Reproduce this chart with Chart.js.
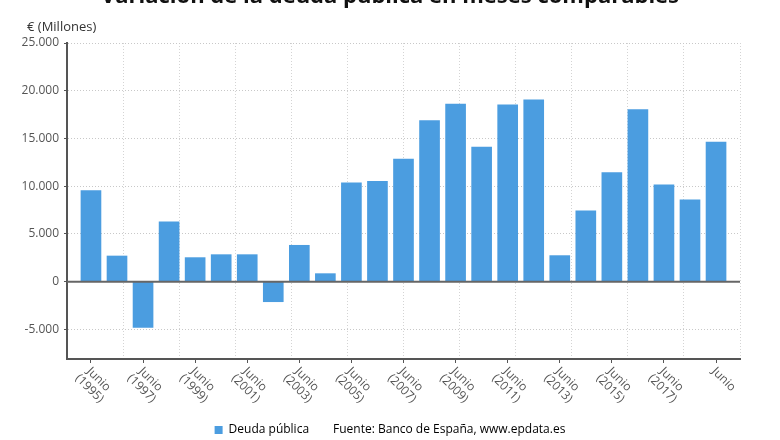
<!DOCTYPE html>
<html>
<head>
<meta charset="utf-8">
<script src="https://cdn.jsdelivr.net/npm/chart.js@4.4.0/dist/chart.umd.min.js"></script>
<style>
body{margin:0;background:#fff;}
</style>
</head>
<body>
<canvas id="mychart" width="780" height="440"></canvas>
<script>
// datos
const years = [1995,1996,1997,1998,1999,2000,2001,2002,2003,2004,2005,2006,2007,
               2008,2009,2010,2011,2012,2013,2014,2015,2016,2017,2018,2019];
const deuda = [9540,2690,-4780,6260,2520,2830,2830,-2100,3810,840,10350,10520,12830,
               16880,18600,14090,18520,19050,2730,7410,11430,18030,10140,8560,14610];
const tickYears = [1995,1997,1999,2001,2003,2005,2007,2009,2011,2013,2015,2017,2019];
const tickLabels = [['Junio','(1995)'],['Junio','(1997)'],['Junio','(1999)'],['Junio','(2001)'],
                    ['Junio','(2003)'],['Junio','(2005)'],['Junio','(2007)'],['Junio','(2009)'],
                    ['Junio','(2011)'],['Junio','(2013)'],['Junio','(2015)'],['Junio','(2017)'],['Junio','']];
const yTicks = [-5000,0,5000,10000,15000,20000,25000];
const unidad = '€ (Millones)';

function fmt(v){ return String(v).replace(/\B(?=(\d{3})+(?!\d))/g,'.'); }

const extras = {
    id: 'extras',
    afterDatasetsDraw(chart){
        const ctx = chart.ctx, a = chart.chartArea;
        const y0 = chart.scales.y.getPixelForValue(0);
        ctx.save();
        ctx.strokeStyle = '#666';
        ctx.lineWidth = 2;
        ctx.beginPath();
        ctx.moveTo(a.left, y0);
        ctx.lineTo(a.right, y0);
        ctx.stroke();
        ctx.restore();
    },
    afterDraw(chart){
        const ctx = chart.ctx, xs = chart.scales.x;
        ctx.save();
        // unidad arriba a la izquierda
        ctx.font = '13px "Open Sans"';
        ctx.fillStyle = '#333';
        ctx.textAlign = 'left';
        ctx.textBaseline = 'middle';
        ctx.fillText(unidad, 27, 27);
        // etiquetas del eje x giradas
        ctx.font = '12px "Open Sans"';
        ctx.fillStyle = '#555';
        ctx.textAlign = 'center';
        tickYears.forEach(function(yr, i){
            const x = xs.getPixelForValue(yr);
            ctx.save();
            ctx.translate(x + 3, xs.top + 25);
            ctx.rotate(Math.PI / 4);
            ctx.fillText(tickLabels[i][0], 0, -6.5);
            ctx.fillText(tickLabels[i][1], 0, 6.5);
            ctx.restore();
        });
        ctx.restore();
    }
};

const abc = document.getElementById('mychart').getContext('2d');
new Chart(abc, {
    type: 'bar',
    data: {
        datasets: [{
            label: 'Deuda pública',
            data: years.map((y, i) => ({x: y, y: deuda[i]})),
            backgroundColor: '#4b9de0',
            barThickness: 20
        }]
    },
    options: {
        responsive: false,
        animation: false,
        layout: {padding: {left: 18, right: 18, top: 0, bottom: -6}},
        scales: {
            x: {
                type: 'linear',
                offset: false,
                min: 1994.08,
                max: 2019.92,
                afterBuildTicks: s => { s.ticks = tickYears.map(v => ({value: v})); },
                afterFit: s => { s.height = 55; },
                ticks: {display: false},
                grid: {offset: false, drawOnChartArea: false, drawTicks: true, tickLength: 4, tickColor: '#555'},
                border: {color: '#555', width: 2}
            },
            x2: {
                type: 'linear',
                position: 'bottom',
                offset: false,
                min: 0,
                max: 12,
                afterBuildTicks: s => { s.ticks = [0,1,2,3,4,5,6,7,8,9,10,11,12].map(v => ({value: v})); },
                afterFit: s => { s.height = 0; },
                ticks: {display: false},
                grid: {offset: false, color: '#d4d4d4', lineWidth: 1, drawTicks: false},
                border: {display: false, dash: [1, 2]}
            },
            y: {
                min: -8100,
                max: 25000,
                afterBuildTicks: s => { s.ticks = yTicks.map(v => ({value: v})); },
                afterFit: s => { s.width = 49; },
                ticks: {
                    color: '#555',
                    font: {family: 'Open Sans', size: 12},
                    padding: 5,
                    callback: v => fmt(v)
                },
                grid: {color: '#c8c8c8', lineWidth: 1, tickLength: 3, tickColor: '#555'},
                border: {color: '#555', width: 2, dash: [1, 2]}
            },
            y2: {
                position: 'right',
                afterFit: s => { s.width = 22; },
                ticks: {display: false},
                grid: {display: false},
                border: {display: false}
            }
        },
        plugins: {
            title: {
                display: true,
                text: 'Variación de la deuda pública en meses comparables',
                color: '#111',
                font: {family: 'Open Sans', size: 22, weight: 'bold'},
                padding: {top: -16, bottom: 32.6}
            },
            legend: {
                position: 'bottom',
                labels: {
                    color: '#333',
                    font: {family: 'Open Sans', size: 12},
                    boxWidth: 8,
                    boxHeight: 8,
                    padding: 10,
                    generateLabels: chart => [
                        {text: 'Deuda pública', fillStyle: '#4b9de0', strokeStyle: '#4b9de0', lineWidth: 0, datasetIndex: 0},
                        {text: 'Fuente: Banco de España, www.epdata.es', fillStyle: 'rgba(0,0,0,0)', strokeStyle: 'rgba(0,0,0,0)', lineWidth: 0}
                    ]
                }
            },
            tooltip: {enabled: false}
        }
    },
    plugins: [extras]
});
</script>
</body>
</html>
